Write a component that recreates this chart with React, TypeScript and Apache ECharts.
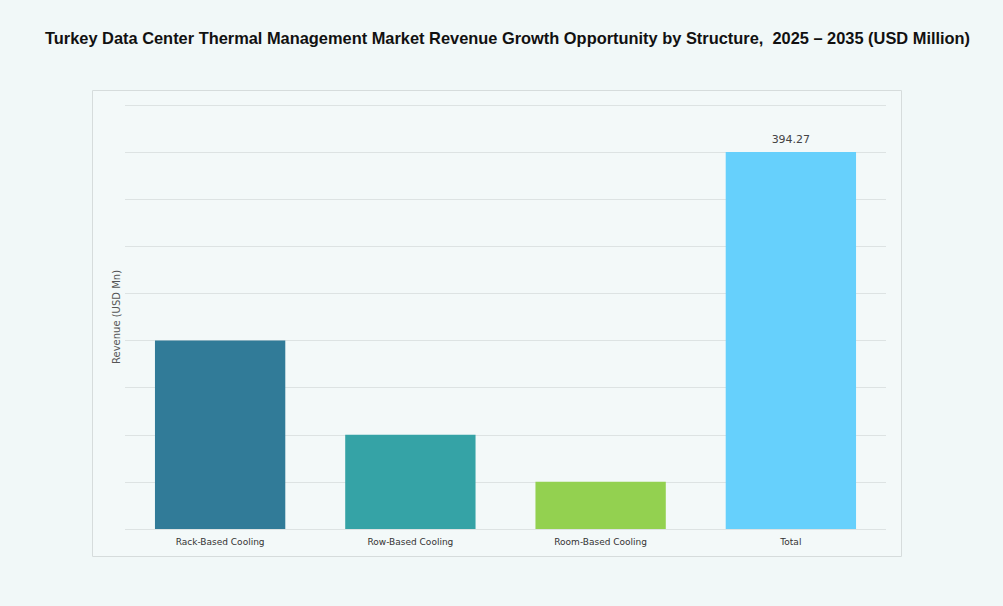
import React, { useEffect, useRef } from "react";
import * as echarts from "echarts";

const categories = ["Rack-Based Cooling", "Row-Based Cooling", "Room-Based Cooling", "Total"];
const values = [197.1, 98.6, 49.3, 394.27];
const barColors = ["#317b98", "#35a3a6", "#93d150", "#66d0fc"];

const App: React.FC = () => {
  const chartRef = useRef<HTMLDivElement>(null);

  useEffect(() => {
    if (!chartRef.current) return;
    const chart = echarts.init(chartRef.current, null, { renderer: "svg" });

    const step = 394.27 / 8;

    chart.setOption({
      animation: false,
      backgroundColor: "#f1f8f8",
      title: {
        text: "Turkey Data Center Thermal Management Market Revenue Growth Opportunity by Structure,  2025 – 2035 (USD Million)",
        left: 40,
        top: 25,
        textStyle: {
          fontFamily: "Liberation Sans",
          fontSize: 16.4,
          fontWeight: "bold",
          color: "#111",
        },
      },
      // outer frame around the plot
      graphic: [
        {
          type: "rect",
          shape: { x: 92.5, y: 90.5, width: 809, height: 466 },
          style: { fill: "#f3f9f9", stroke: "#d6dcdc", lineWidth: 1 },
          z: -10,
        },
      ],
      grid: { left: 125, right: 117, top: 105, bottom: 77 },
      xAxis: {
        type: "category",
        data: categories,
        axisLine: { show: false },
        axisTick: { show: false },
        axisLabel: {
          fontFamily: "DejaVu Sans",
          fontSize: 9,
          color: "#333",
          margin: 8,
        },
      },
      yAxis: {
        type: "value",
        min: 0,
        max: step * 9,
        interval: step,
        name: "Revenue (USD Mn)",
        nameLocation: "middle",
        nameGap: 4,
        nameTextStyle: {
          fontFamily: "DejaVu Sans",
          fontSize: 10,
          color: "#555",
        },
        axisLabel: { show: false },
        axisLine: { show: false },
        axisTick: { show: false },
        splitLine: { lineStyle: { color: "#dde3e3", width: 1 } },
      },
      series: [
        {
          type: "bar",
          barWidth: "68.5%",
          data: values.map((v, i) => ({
            value: v,
            itemStyle: { color: barColors[i] },
            label: {
              show: i === values.length - 1,
              position: "top",
              distance: 7,
              formatter: "394.27",
              fontFamily: "DejaVu Sans",
              fontSize: 11,
              color: "#444",
            },
          })),
        },
      ],
    });

    return () => chart.dispose();
  }, []);

  return (
    <div
      ref={chartRef}
      style={{ position: "fixed", left: 0, top: 0, width: "1003px", height: "606px" }}
    />
  );
};

export default App;
